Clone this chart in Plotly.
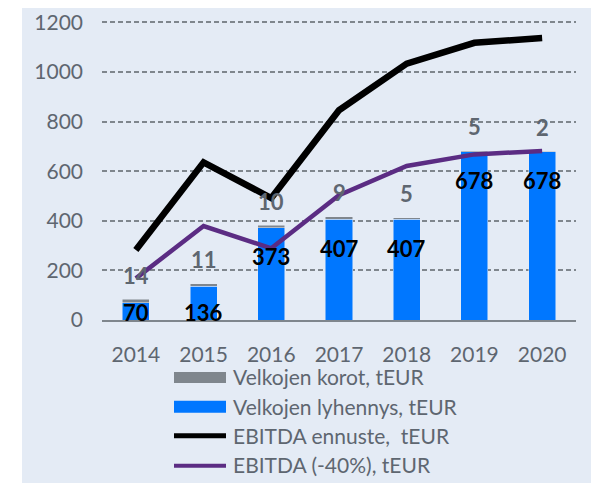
import plotly.graph_objects as go

years = ["2014", "2015", "2016", "2017", "2018", "2019", "2020"]
lyhennys = [70, 136, 373, 407, 407, 678, 678]
korot = [14, 11, 10, 9, 5, 5, 2]
ebitda = [282, 636, 492, 846, 1034, 1118, 1137]
ebitda40 = [168, 379, 289, 503, 621, 668, 682]
y_ticks = [0, 200, 400, 600, 800, 1000, 1200]

legend_names = ["Velkojen korot, tEUR", "Velkojen lyhennys, tEUR",
                "EBITDA ennuste,  tEUR", "EBITDA (-40%), tEUR"]

GRAY = "#7F868D"
BLUE = "#0077FF"
PURPLE = "#5B2C83"
TXT = "#5E6670"
BG = "#E4EBF5"
FONT = "Lato"
Y_MAX = 1210

fig = go.Figure()
fig.add_trace(go.Bar(x=years, y=lyhennys, marker_color=BLUE, name=legend_names[1],
                     showlegend=False, width=0.4))
fig.add_trace(go.Bar(x=years, y=korot, marker_color=GRAY, name=legend_names[0],
                     showlegend=False, width=0.4))
fig.add_trace(go.Scatter(x=years, y=ebitda, mode="lines", name=legend_names[2],
                         line=dict(color="black", width=6.5), showlegend=False))
fig.add_trace(go.Scatter(x=years, y=ebitda40, mode="lines", name=legend_names[3],
                         line=dict(color=PURPLE, width=4.5), showlegend=False))

# data labels (category axis -> numeric index positions)
for i, (v, k) in enumerate(zip(lyhennys, korot)):
    if v < 180:
        fig.add_annotation(x=i, y=0, text=f"<b>{v}</b>", showarrow=False,
                           yanchor="middle", yshift=8,
                           font=dict(family=FONT, size=22, color="black"))
    else:
        fig.add_annotation(x=i, y=v, text=f"<b>{v}</b>", showarrow=False,
                           yanchor="middle", yshift=-29,
                           font=dict(family=FONT, size=22, color="black"))
    fig.add_annotation(x=i, y=v + k, text=f"<b>{k}</b>", showarrow=False,
                       yanchor="middle", yshift=24,
                       font=dict(family=FONT, size=22, color=TXT))

# page has an 8px body margin; screenshot pixel coords -> figure coords
OFF = 8
FW, FH = 599 - OFF, 483 - OFF
L, R, T, B = 102 - OFF, 576 - OFF, 19.5 - OFF, 320 - OFF
W, H = R - L, B - T
def px(x):
    return (x - OFF - L) / W
def py(y):
    return (B - (y - OFF)) / H

shapes = [
    dict(type="rect", xref="paper", yref="paper", x0=px(22), x1=px(610),
         y0=py(495), y1=py(0), fillcolor=BG, line=dict(width=0), layer="below"),
    dict(type="rect", xref="paper", yref="paper", x0=px(174), x1=px(226),
         y0=py(383), y1=py(372), fillcolor=GRAY, line=dict(width=0)),
    dict(type="rect", xref="paper", yref="paper", x0=px(174), x1=px(226),
         y0=py(413), y1=py(401), fillcolor=BLUE, line=dict(width=0)),
    dict(type="line", xref="paper", yref="paper", x0=px(174), x1=px(226),
         y0=py(436), y1=py(436), line=dict(color="black", width=5)),
    dict(type="line", xref="paper", yref="paper", x0=px(174), x1=px(226),
         y0=py(466), y1=py(466), line=dict(color=PURPLE, width=4)),
]
for name, yc in zip(legend_names, [377, 407, 436, 465]):
    fig.add_annotation(xref="paper", yref="paper", x=px(231), y=py(yc), text=name,
                       showarrow=False, xanchor="left", yanchor="middle",
                       font=dict(family=FONT, size=21, color=TXT))

fig.update_layout(
    width=FW, height=FH,
    margin=dict(l=L, r=FW - R, t=T, b=FH - B, autoexpand=False),
    paper_bgcolor="white", plot_bgcolor="rgba(0,0,0,0)",
    barmode="stack", showlegend=False, shapes=shapes,
    font=dict(family=FONT, color=TXT),
)
fig.update_xaxes(type="category", range=[-0.5, 6.5], showgrid=False,
                 showline=True, linecolor=GRAY, linewidth=2,
                 tickfont=dict(family=FONT, size=21, color=TXT),
                 ticks="", ticklabelstandoff=15)
fig.update_yaxes(range=[0, Y_MAX], tickvals=y_ticks, showgrid=True,
                 gridcolor=GRAY, gridwidth=1.5, griddash="5px,3px",
                 zeroline=False, showline=False, ticks="",
                 tickfont=dict(family=FONT, size=21, color=TXT),
                 ticklabelstandoff=18)

fig.write_html("out.html")
